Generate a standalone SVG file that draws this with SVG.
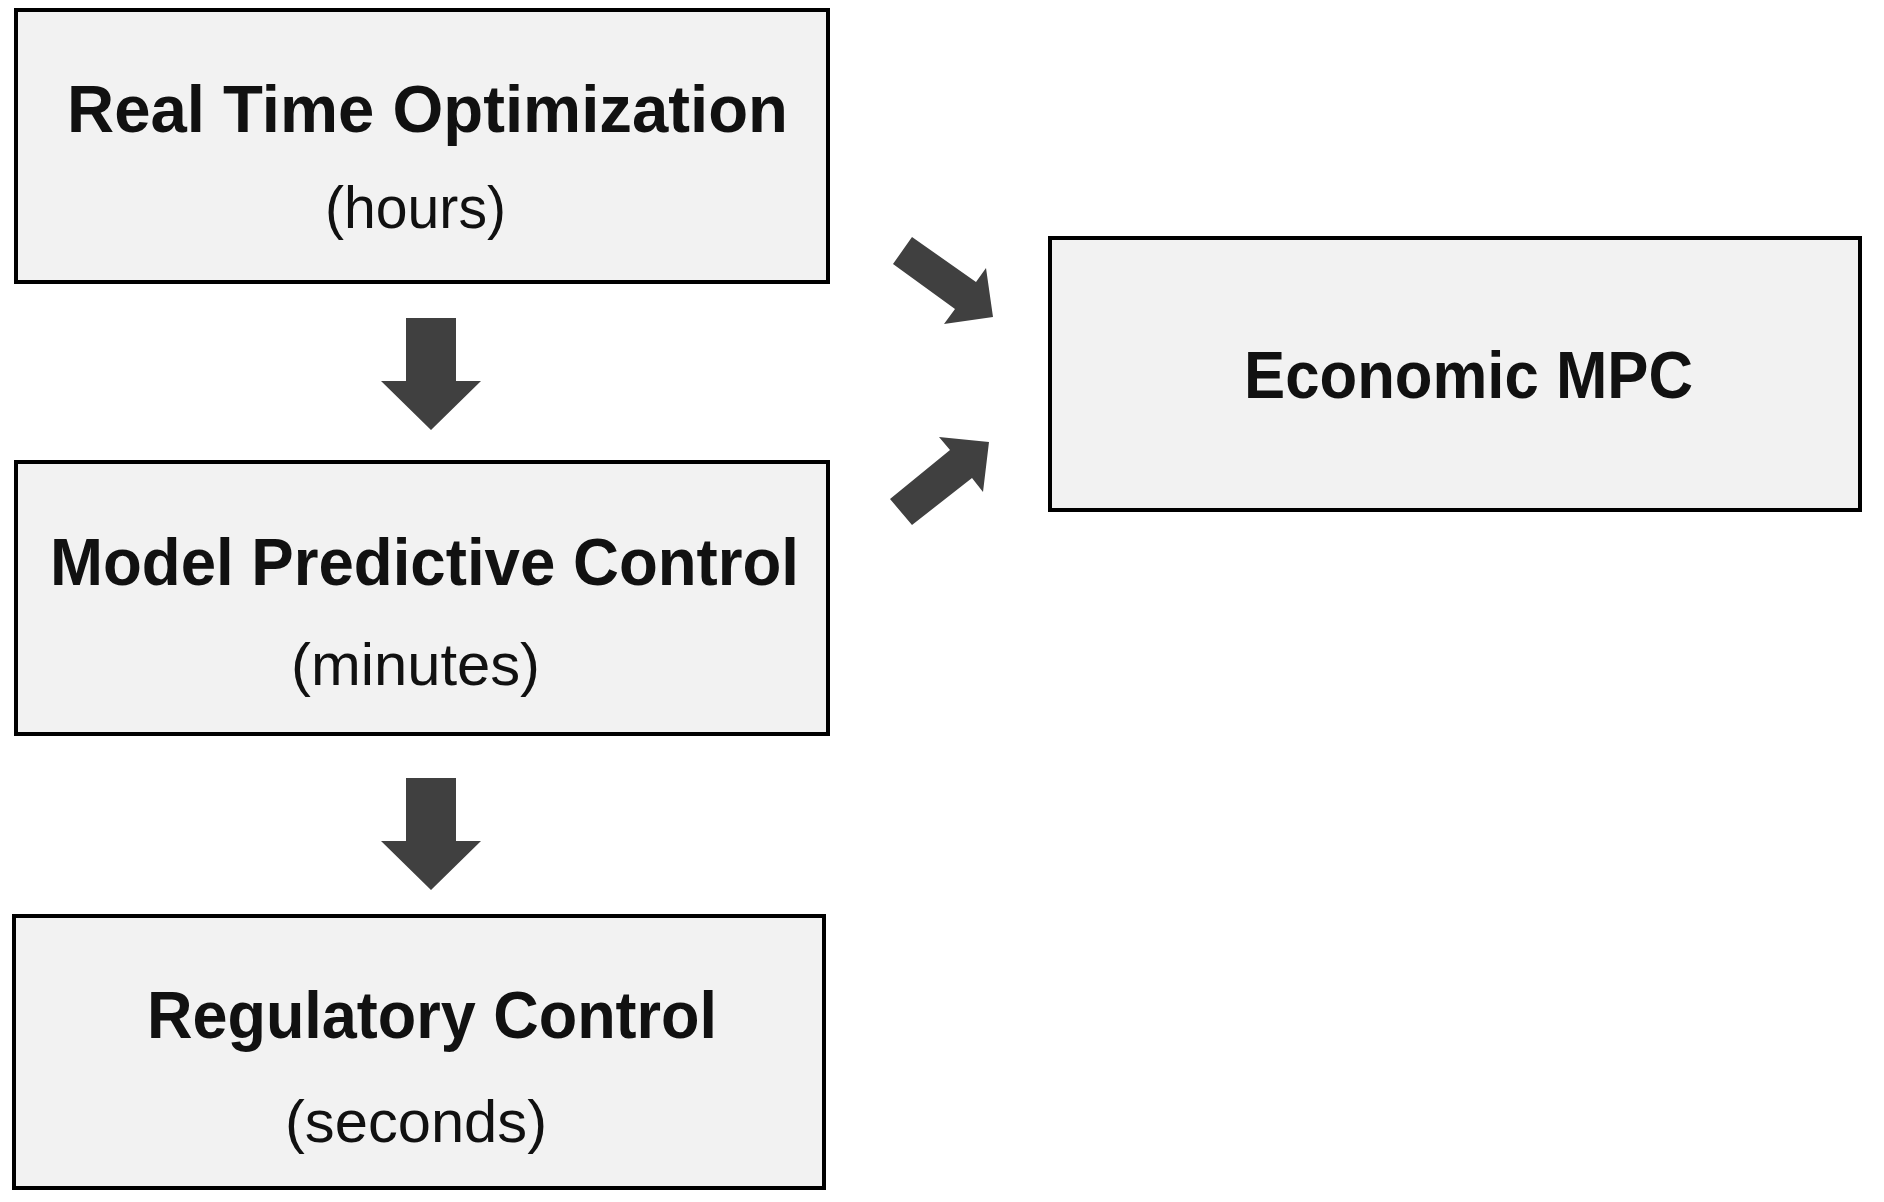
<svg xmlns="http://www.w3.org/2000/svg" width="1884" height="1202" viewBox="0 0 1884 1202">
<style>
.box{fill:#f2f2f2;stroke:#000;stroke-width:4}
.t{font-family:"Liberation Sans",Arial,sans-serif;font-weight:bold;font-size:66px;fill:#111;text-anchor:middle}
.s{font-family:"Liberation Sans",Arial,sans-serif;font-size:60px;fill:#111;text-anchor:middle}
.arr{fill:#404040}
</style>
<rect width="1884" height="1202" fill="#fff"/>
<g id="rto">
<rect class="box" x="16" y="10" width="812" height="272"/>
<text class="t" x="427.5" y="132" textLength="721" lengthAdjust="spacingAndGlyphs">Real Time Optimization</text>
<text class="s" x="415.5" y="228" textLength="181" lengthAdjust="spacingAndGlyphs">(hours)</text>
</g>
<g id="mpc">
<rect class="box" x="16" y="462" width="812" height="272"/>
<text class="t" x="424.5" y="585" textLength="749" lengthAdjust="spacingAndGlyphs">Model Predictive Control</text>
<text class="s" x="415.5" y="685" textLength="249" lengthAdjust="spacingAndGlyphs">(minutes)</text>
</g>
<g id="reg">
<rect class="box" x="14" y="916" width="810" height="272"/>
<text class="t" x="432" y="1038" textLength="570" lengthAdjust="spacingAndGlyphs">Regulatory Control</text>
<text class="s" x="416" y="1142" textLength="262" lengthAdjust="spacingAndGlyphs">(seconds)</text>
</g>
<g id="empc">
<rect class="box" x="1050" y="238" width="810" height="272"/>
<text class="t" x="1468.5" y="398" textLength="449" lengthAdjust="spacingAndGlyphs">Economic MPC</text>
</g>
<g id="connectors">
<polygon class="arr" points="406,318 456,318 456,381 481,381 431,430 381,381 406,381"/>
<polygon class="arr" points="406,778 456,778 456,841 481,841 431,890 381,841 406,841"/>
<polygon class="arr" points="893,264 912,237 976,282 986,268 993,317 944,324 955,309"/>
<polygon class="arr" points="890,499 950,450 939,437 989,442 983,492 972,478 912,525"/>
</g>
</svg>
